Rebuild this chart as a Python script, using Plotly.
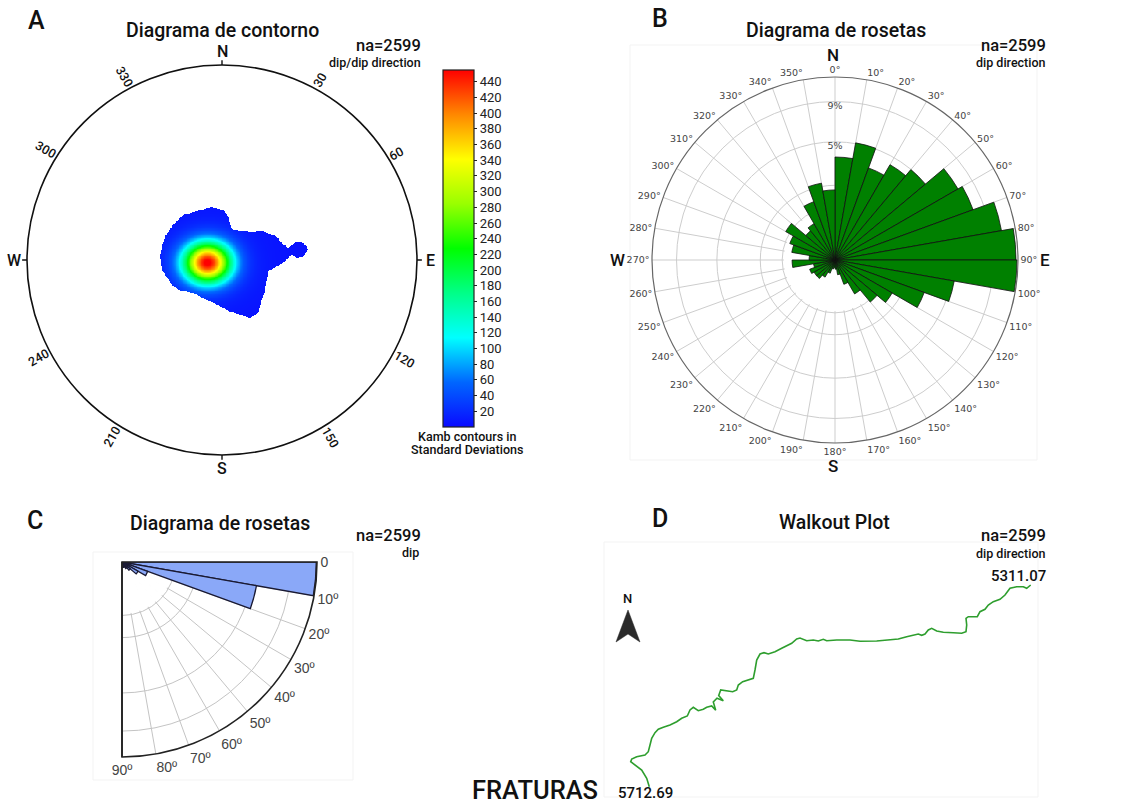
import numpy as np
import plotly.graph_objects as go

W, H = 1140, 805
FONT = "Roboto"

# ---------------- DATA ----------------
# Panel A - stereonet (unit-circle coords): outline of lowest Kamb contour + density peaks
blob_u = [-0.198, -0.078, -0.053, 0.007, 0.032, 0.050, 0.092, 0.161, 0.195, 0.237, 0.281, 0.306,
          0.340, 0.383, 0.417, 0.443, 0.417, 0.383, 0.357, 0.332, 0.297, 0.263, 0.237, 0.229,
          0.221, 0.204, 0.186, 0.144, 0.092, 0.041, -0.010, -0.078, -0.147, -0.224, -0.258,
          -0.284, -0.309, -0.318, -0.309, -0.292, -0.258, -0.224]
blob_v = [0.231, 0.265, 0.270, 0.256, 0.222, 0.157, 0.150, 0.140, 0.150, 0.137, 0.119, 0.086,
          0.060, 0.094, 0.086, 0.055, 0.017, 0.009, 0.026, 0.000, -0.026, -0.043, -0.060, -0.103,
          -0.154, -0.205, -0.273, -0.299, -0.282, -0.265, -0.239, -0.205, -0.171, -0.154, -0.128,
          -0.086, -0.051, 0.017, 0.068, 0.119, 0.171, 0.205]
peak_u = [-0.074, -0.070]
peak_v = [-0.015, -0.018]
peak_amp = [435, 22]
peak_su = [0.082, 0.16]
peak_sv = [0.070, 0.14]
plateau_level = 5
cbar_ticks = list(range(20, 441, 20))
cbar_max = 455
stereo_az_labels = [30, 60, 120, 150, 210, 240, 300, 330]
stereo_az_angles = [-60, -30, 30, 60, -60, -30, 30, 60]

# Panel B - rose diagram of dip direction (% per 10 deg bin)
rose_theta = list(range(5, 360, 10))
rose_pct = [3.80, 5.07, 3.44, 4.34, 4.99, 7.23, 7.74, 10.24, 11.74, 11.87,
            5.25, 3.23, 1.56, 1.08, 0.55, 0.24, 0.08, 0.03, 0.02, 0.03,
            0.07, 0.14, 0.21, 0.21, 0.26, 0.17, 0.66, 0.24, 0.69, 0.83,
            1.16, 0.52, 0.63, 1.38, 2.18, 1.76]
rose_rings = [1, 2, 5, 9]
rose_ring_text = ["", "", "5%", "9%"]
rose_max = 12

# Panel C - rose diagram of dip (% per 10 deg bin)
dip_theta = list(range(5, 90, 10))
dip_pct = [66.0, 32.6, 1.3, 0.6, 0.2, 0.1, 0.05, 0.05, 0.05]
dip_rings = [5, 10, 30, 50]
dip_max = 66.5
dip_ticks = list(range(0, 91, 10))
dip_ticktext = ["0"] + [f"{t}º" for t in range(10, 91, 10)]

# Panel D - walkout plot (east / north offsets from start)
walk_east = [0, -2.6, -7.6, -14.3, -18.6, -17.6, -12.6, -4.3, -1, 0.7, 2.4, 5.7, 9, 14, 20.7,
             27.4, 32.4, 38, 40.7, 44, 49, 54, 57.4, 62.4, 66.4, 64, 67.7, 74, 69.4, 71.4,
             77.4, 83.4, 87.4, 89, 93.4, 99, 104, 105.7, 107.4, 110.7, 114.7, 119, 125.7,
             132.4, 137.4, 142.4, 147.4, 150.7, 157.4, 164, 169, 174, 177.4, 187.4, 200.7,
             210.7, 227.4, 240.7, 249, 257.4, 264, 269, 272.4, 275.7, 279, 282.4, 287.4, 294,
             304, 312.4, 316.7, 317.4, 316.7, 319, 324, 328, 330.7, 335.7, 339, 344, 350.7,
             355.7, 360.7, 367.4, 374, 377.4, 381.4]
walk_north = [0, 8.4, 16.7, 21.7, 25, 27.7, 30, 31.7, 35, 41.7, 48.4, 54, 57.4, 59.4, 61.7,
              65, 68.4, 70.7, 76.7, 79.4, 76, 77.4, 79.4, 80.7, 76.4, 84.7, 88.4, 86, 91.2, 96.7,
              96, 95, 96.7, 101.7, 105, 106.7, 108.4, 116.7, 126.7, 132.7, 134, 132.7, 135,
              138.4, 140.7, 143.4, 147.7, 148.7, 146, 146.7, 145.7, 147.4, 146, 146.7, 146.7,
              145.4, 145.7, 146.7, 147.7, 150, 151.7, 152.7, 151.4, 152.7, 156.7, 158.4, 155.7,
              154.4, 154, 153.4, 155, 161.7, 168.4, 170, 170, 170, 175, 177.4, 181.7, 185,
              187.4, 191.7, 198.4, 200, 200, 198.4, 201.7]
walk_start_label = "5712.69"
walk_end_label = "5311.07"
n_samples = 2599


# ---------------- helpers ----------------
def px(x):
    return x / W


def py(y):
    return 1 - y / H


def pann(x, y, text, size, xanchor="center", yanchor="middle", color="#111", family=FONT,
         weight=500, **kw):
    return dict(x=px(x), y=py(y), xref="paper", yref="paper", text=text, showarrow=False,
                font=dict(size=size, family=family, color=color, weight=weight),
                xanchor=xanchor, yanchor=yanchor, **kw)


def inside_polygon(xx, yy, polx, poly):
    res = np.zeros(xx.shape, dtype=bool)
    n = len(polx)
    j = n - 1
    for i in range(n):
        xi, yi, xj, yj = polx[i], poly[i], polx[j], poly[j]
        cond = ((yi > yy) != (yj > yy)) & (xx < (xj - xi) * (yy - yi) / (yj - yi + 1e-12) + xi)
        res ^= cond
        j = i
    return res


fig = go.Figure()

# ---------------- Panel A ----------------
gu = np.arange(-0.34, 0.46, 0.004)
gv = np.arange(-0.32, 0.29, 0.004)
UU, VV = np.meshgrid(gu, gv)
Z = np.full(UU.shape, float(plateau_level))
for cu, cv, a, su, sv in zip(peak_u, peak_v, peak_amp, peak_su, peak_sv):
    Z += a * np.exp(-((UU - cu) ** 2 / (2 * su ** 2) + (VV - cv) ** 2 / (2 * sv ** 2)))
Z[~inside_polygon(UU, VV, blob_u, blob_v)] = np.nan

hue_scale = [[0.0, "#0a0aff"], [0.125, "#0066ff"], [0.25, "#00ffff"], [0.375, "#00ff88"],
             [0.5, "#00ff00"], [0.625, "#99ff00"], [0.75, "#ffff00"], [0.875, "#ff8800"],
             [1.0, "#ff0000"]]

fig.add_trace(go.Heatmap(
    x=gu, y=gv, z=Z, zmin=0, zmax=cbar_max, colorscale=hue_scale, zsmooth=False,
    xaxis="x", yaxis="y", hoverinfo="skip",
    colorbar=dict(x=px(443), xanchor="left", xpad=0, y=py(70), yanchor="top", ypad=0,
                  len=357, lenmode="pixels", thickness=31, thicknessmode="pixels",
                  outlinecolor="#222", outlinewidth=1.2, tickvals=cbar_ticks,
                  ticks="outside", ticklen=3, tickcolor="#222",
                  tickfont=dict(size=13, family=FONT, color="#222"))))

# ---------------- Panel B ----------------
fig.add_trace(go.Barpolar(theta=rose_theta, r=[np.sqrt(rose_rings[0]) * 0.96] * len(rose_theta),
                          width=10, subplot="polar", hoverinfo="skip",
                          marker=dict(color="white", line=dict(color="white", width=1))))
fig.add_trace(go.Barpolar(theta=rose_theta, r=np.sqrt(rose_pct), width=10, subplot="polar",
                          marker=dict(color="#008000", line=dict(color="#111", width=0.8))))
fig.add_trace(go.Scatterpolar(theta=[0] * len(rose_rings), r=np.sqrt(rose_rings), mode="text",
                              text=rose_ring_text, textposition="bottom center",
                              textfont=dict(size=9.5, color="#444", family="DejaVu Sans"),
                              subplot="polar", hoverinfo="skip"))

# ---------------- Panel C ----------------
# dip measured clockwise from the horizontal (east) -> screen angle = -dip
dip_screen = [(-t) % 360 for t in dip_theta]
dip_tick_screen = [(-t) % 360 if t > 0 else 359.98 for t in dip_ticks]
fig.add_trace(go.Barpolar(theta=dip_screen, r=[np.sqrt(dip_rings[0]) * 0.96] * len(dip_screen),
                          width=10, subplot="polar2", hoverinfo="skip",
                          marker=dict(color="white", line=dict(color="white", width=1))))
fig.add_trace(go.Barpolar(theta=dip_screen, r=np.sqrt(dip_pct), width=10, subplot="polar2",
                          marker=dict(color="#8aa8f8", line=dict(color="#1a1a33", width=1.3))))

# ---------------- Panel D ----------------
fig.add_trace(go.Scatter(x=walk_east, y=walk_north, mode="lines", xaxis="x2", yaxis="y2",
                         line=dict(color="#2e9e2e", width=1.6), hoverinfo="skip"))

# ---------------- Layout ----------------
annotations = []
shapes = []

# panel A geometry
shapes.append(dict(type="circle", xref="x", yref="y", x0=-1, y0=-1, x1=1, y1=1,
                   line=dict(color="#111", width=1.6), layer="above"))
for ang in [0, 90, 180, 270]:
    a = np.deg2rad(ang)
    shapes.append(dict(type="line", xref="x", yref="y", x0=np.sin(a), y0=np.cos(a),
                       x1=1.025 * np.sin(a), y1=1.025 * np.cos(a), line=dict(color="#111", width=1.4)))
for lab, ang in zip(["N", "E", "S", "W"], [0, 90, 180, 270]):
    a = np.deg2rad(ang)
    annotations.append(dict(x=1.068 * np.sin(a), y=1.068 * np.cos(a), xref="x", yref="y", text=lab,
                            showarrow=False, font=dict(size=16, family=FONT, color="#111", weight=500)))
for az, ta in zip(stereo_az_labels, stereo_az_angles):
    shift = -1.5 if az < 180 else 2.0
    a = np.deg2rad(az + shift)
    rr = 1.066 if az >= 100 else 1.048
    annotations.append(dict(x=rr * np.sin(a), y=rr * np.cos(a), xref="x", yref="y", text=str(az),
                            textangle=ta, showarrow=False,
                            font=dict(size=12.5, family=FONT, color="#111", weight=500)))

# letters / titles / counts
annotations += [
    pann(36, 20, "A", 25), pann(660, 18, "B", 25), pann(35, 520, "C", 25), pann(660, 518, "D", 25),
    pann(222, 31, "Diagrama de contorno", 19.5),
    pann(836, 31, "Diagrama de rosetas", 19.5),
    pann(220, 523, "Diagrama de rosetas", 19.5),
    pann(835, 522, "Walkout Plot", 19.5),
    pann(423, 45.5, f"na={n_samples}", 16.5, xanchor="right"),
    pann(423, 63, "dip/dip direction", 12.5, xanchor="right"),
    pann(1048, 45.5, f"na={n_samples}", 16.5, xanchor="right"),
    pann(1048, 63, "dip direction", 12.5, xanchor="right"),
    pann(423, 535.5, f"na={n_samples}", 16.5, xanchor="right"),
    pann(421, 552, "dip", 12.5, xanchor="right"),
    pann(1048, 535.5, f"na={n_samples}", 16.5, xanchor="right"),
    pann(1048, 553, "dip direction", 12.5, xanchor="right"),
    pann(467, 437, "Kamb contours in", 12.5),
    pann(467, 449.5, "Standard Deviations", 12.5),
    pann(833, 55, "N", 17), pann(1045, 260, "E", 17), pann(617, 260, "W", 17), pann(833, 466, "S", 17),
    pann(627, 598, "N", 13),
    pann(535, 790, "FRATURAS", 25.5),
]
# walkout end labels
annotations.append(dict(x=walk_east[0], y=walk_north[0], xref="x2", yref="y2", text=walk_start_label,
                        showarrow=False, xanchor="center", yanchor="top", xshift=-4, yshift=5,
                        font=dict(size=15, family=FONT, color="#111", weight=500)))
annotations.append(dict(x=walk_east[-1], y=walk_north[-1], xref="x2", yref="y2", text=walk_end_label,
                        showarrow=False, xanchor="center", yanchor="bottom", xshift=-12, yshift=-2,
                        font=dict(size=15, family=FONT, color="#111", weight=500)))

# north arrow
pts = [(628, 610), (616, 642), (628, 634), (640, 642)]
path = "M " + " L ".join(f"{px(a):.5f},{py(b):.5f}" for a, b in pts) + " Z"
shapes.append(dict(type="path", xref="paper", yref="paper", path=path,
                   fillcolor="#2a2a2a", line=dict(color="#2a2a2a", width=0.5)))

# faint image frames
for x0, y0, x1, y1 in [(630, 45, 1037, 460), (93, 552, 353, 780), (604, 542, 1038, 797)]:
    shapes.append(dict(type="rect", xref="paper", yref="paper", x0=px(x0), x1=px(x1),
                       y0=py(y1), y1=py(y0), line=dict(color="#f3f3f3", width=1), layer="below"))

fig.update_layout(
    width=W, height=H, margin=dict(l=0, r=0, t=0, b=0), paper_bgcolor="white", plot_bgcolor="white",
    showlegend=False, font=dict(family=FONT),
    xaxis=dict(domain=[px(7.5), px(436.5)], range=[-1.1, 1.1], visible=False),
    yaxis=dict(domain=[py(474.5), py(45.5)], range=[-1.1, 1.1], visible=False),
    xaxis2=dict(domain=[px(600), px(1040)], range=[-49.3, 390.7], visible=False),
    yaxis2=dict(domain=[py(800), py(560)], range=[-13.3, 226.7], visible=False),
    polar=dict(
        domain=dict(x=[px(835 - 183), px(835 + 183)], y=[py(443), py(77)]),
        bgcolor="white", bargap=0, barmode="overlay",
        angularaxis=dict(rotation=90, direction="clockwise", tickvals=list(range(0, 360, 10)),
                         ticktext=[f"{v}°" for v in range(0, 360, 10)], ticks="",
                         tickfont=dict(size=9.5, color="#444", family="DejaVu Sans"),
                         showline=True, linecolor="#666", linewidth=1.2,
                         gridcolor="#cdcdcd", gridwidth=1),
        radialaxis=dict(range=[0, np.sqrt(rose_max)], tickvals=list(np.sqrt(rose_rings)),
                        showticklabels=False, ticks="", showline=False,
                        gridcolor="#cdcdcd", gridwidth=1),
    ),
    polar2=dict(
        domain=dict(x=[px(122), px(317)], y=[py(757), py(562)]),
        sector=[270, 360], bgcolor="white", bargap=0, barmode="overlay",
        angularaxis=dict(rotation=0, direction="counterclockwise", tickvals=dip_tick_screen,
                         ticktext=dip_ticktext, ticks="",
                         tickfont=dict(size=14, color="#444", family="Liberation Sans"),
                         showline=True, linecolor="#222", linewidth=1.6,
                         gridcolor="#c4c4c4", gridwidth=1.1),
        radialaxis=dict(range=[0, np.sqrt(dip_max)], tickvals=list(np.sqrt(dip_rings)),
                        showticklabels=False, ticks="", showline=True, linecolor="#222", linewidth=1.6,
                        angle=270, gridcolor="#c4c4c4", gridwidth=1.1),
    ),
    annotations=annotations,
    shapes=shapes,
)

fig.write_html("out.html")
